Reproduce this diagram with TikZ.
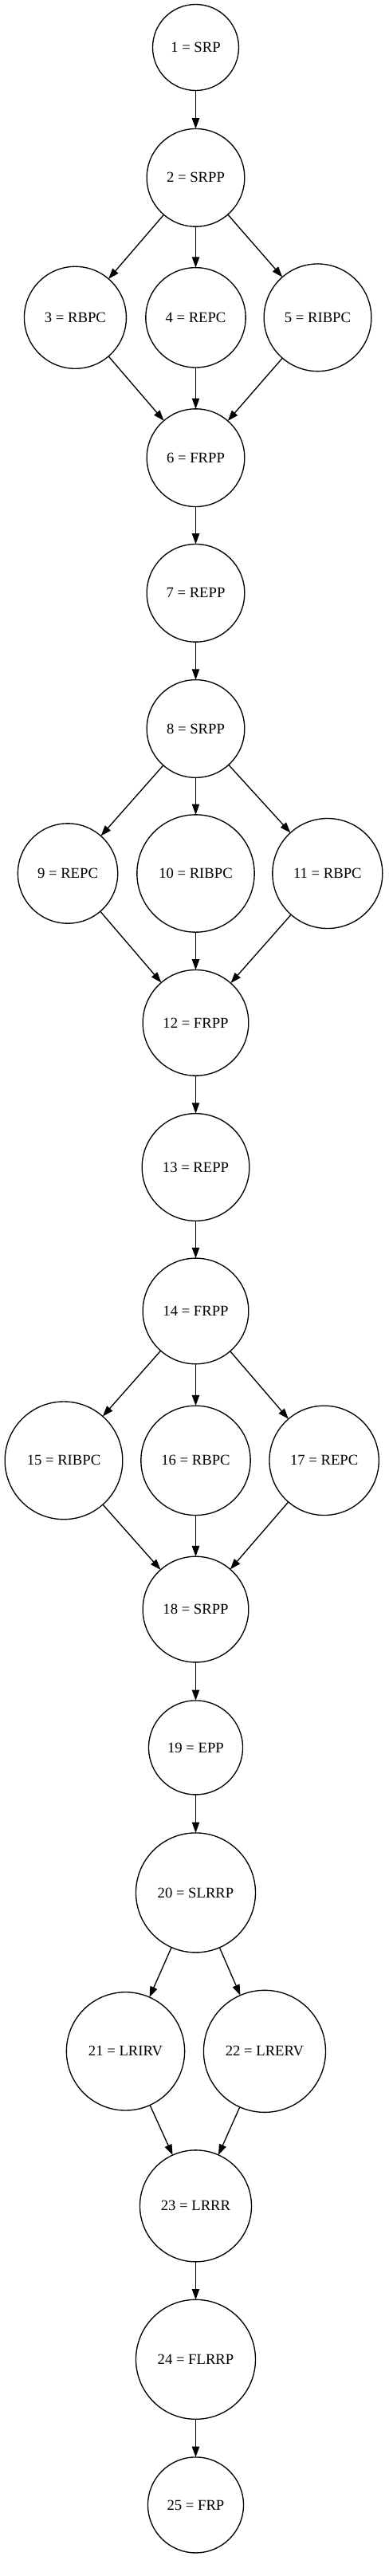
\documentclass[tikz,border=0pt]{standalone}
\usepackage{fontspec}
\setmainfont{Liberation Serif}
\usetikzlibrary{positioning,arrows.meta}

\begin{document}
\begin{tikzpicture}[
    every node/.style = {circle, draw, line width=1pt, inner sep=0pt,
      outer sep=0pt, font=\fontsize{14}{16}\selectfont},
    every edge/.style = {draw, line width=1pt,
      -{Triangle[length=10pt,width=7pt]}},
    node distance = 36pt and 18pt]
  \useasboundingbox (-184.125pt,44.625pt) rectangle (181.125pt,-2378.625pt);
  \node (n1)  [minimum size=81pt] {1 = SRP};
  \node (n2)  [minimum size=92pt, below = of n1] {2 = SRPP};
  \node (n4)  [minimum size=94pt, below = 38.6pt of n2] {4 = REPC};
  \node (n3)  [minimum size=96pt, left = 18.3pt of n4] {3 = RBPC};
  \node (n5)  [minimum size=101pt, right = 17.25pt of n4] {5 = RIBPC};
  \node (n6)  [minimum size=92pt, below = 38.9pt of n4] {6 = FRPP};
  \node (n7)  [minimum size=92pt, below = 35.25pt of n6] {7 = REPP};
  \node (n8)  [minimum size=92pt, below = 35.6pt of n7] {8 = SRPP};
  \node (n10) [minimum size=110.5pt, below = 34.9pt of n8] {10 = RIBPC};
  \node (n9)  [minimum size=94pt, left = 18.1pt of n10] {9 = REPC};
  \node (n11) [minimum size=103.5pt, right = 17pt of n10] {11 = RBPC};
  \node (n12) [minimum size=99.5pt, below = 35.5pt of n10] {12 = FRPP};
  \node (n13) [minimum size=101pt, below = 35.6pt of n12] {13 = REPP};
  \node (n14) [minimum size=99.5pt, below = 35.1pt of n13] {14 = FRPP};
  \node (n16) [minimum size=103pt, below = 39.3pt of n14] {16 = RBPC};
  \node (n15) [minimum size=110.75pt, left = 17.25pt of n16] {15 = RIBPC};
  \node (n17) [minimum size=103pt, right = 17.85pt of n16] {17 = REPC};
  \node (n18) [minimum size=99.5pt, below = 38.8pt of n16] {18 = SRPP};
  \node (n19) [minimum size=88.5pt, below = of n18] {19 = EPP};
  \node (n20) [minimum size=112.5pt, below = of n19] {20 = SLRRP};
  \node (n21) [minimum size=111.2pt, below = 37.35pt of n20, xshift=-66pt] {21 = LRIRV};
  \node (n22) [minimum size=114.8pt, right = 17.85pt of n21] {22 = LRERV};
  \node (n23) [minimum size=105pt, below = 37.4pt of n21, xshift=66pt] {23 = LRRR};
  \node (n24) [minimum size=112.5pt, below = 35.6pt of n23] {24 = FLRRP};
  \node (n25) [minimum size=90pt, below = 35.7pt of n24] {25 = FRP};
  \draw (n1)  edge (n2);
  \draw (n2)  edge (n3)  (n2)  edge (n4)  (n2)  edge (n5);
  \draw (n3)  edge (n6)  (n4)  edge (n6)  (n5)  edge (n6);
  \draw (n6)  edge (n7);
  \draw (n7)  edge (n8);
  \draw (n8)  edge (n9)  (n8)  edge (n10) (n8)  edge (n11);
  \draw (n9)  edge (n12) (n10) edge (n12) (n11) edge (n12);
  \draw (n12) edge (n13);
  \draw (n13) edge (n14);
  \draw (n14) edge (n15) (n14) edge (n16) (n14) edge (n17);
  \draw (n15) edge (n18) (n16) edge (n18) (n17) edge (n18);
  \draw (n18) edge (n19);
  \draw (n19) edge (n20);
  \draw (n20) edge (n21) (n20) edge (n22);
  \draw (n21) edge (n23) (n22) edge (n23);
  \draw (n23) edge (n24);
  \draw (n24) edge (n25);
\end{tikzpicture}
\end{document}
